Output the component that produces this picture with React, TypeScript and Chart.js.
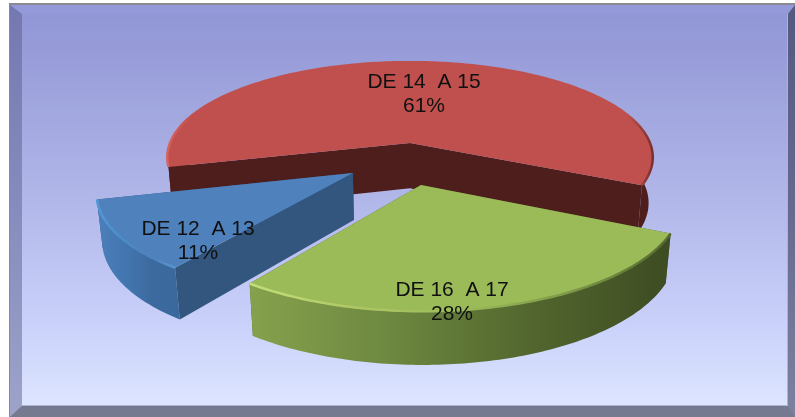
import React, { useEffect, useRef } from "react";
import { Chart, registerables } from "chart.js";

Chart.register(...registerables);

const categories = ["DE 12  A 13", "DE 14  A 15", "DE 16  A 17"];
const shares = [11, 61, 28];
const sliceColors = ["#4f81bd", "#c0504d", "#9bbb59"];

// Styling and layout of the perspective pie
const WALL = ["#33567f", "#4e1e1c", "#4f6229"];
const BAND_STOPS = [
  ["#4c80bc", "#4376b0", "#3c6a9f", "#3b689c"],
  ["#4e1e1c", "#4e1e1c", "#4e1e1c", "#4e1e1c"],
  ["#86a14c", "#6d8840", "#52662e", "#3e4c22"],
];
const RIM_BASE = "#c0504d";
const RIM_STOPS = [
  ["#5398d6", "#4c8ac8", "#4f81bd", "#5a9ad4"],
  ["#d8625e", ...Array(18).fill(RIM_BASE), "#7a2f2d"],
  ["#c5df78", "#aec765", "#9bbb59", "#7f9a48", "#55692f"],
];
const EXPLODE = [
  [-0.227, 0.308],
  [0, 0],
  [0.043, 0.423],
];
const LABEL_AT = [
  [198, 241],
  [424, 94],
  [452, 302],
];
const CAM = { cx: 410, cy: 143, R: 240, A: 93, k: 0.15, depth: 46, m: 0.017 };

function project(X: number, Z: number, h: number) {
  const w = 1 - CAM.k * Z + CAM.m * h;
  return [CAM.cx + (CAM.R * X) / w, CAM.cy + (CAM.A * Z + CAM.depth * h) / w];
}

function poly(ctx: CanvasRenderingContext2D, pts: number[][]) {
  ctx.beginPath();
  pts.forEach((p, i) => (i ? ctx.lineTo(p[0], p[1]) : ctx.moveTo(p[0], p[1])));
  ctx.closePath();
}

function hGrad(ctx: CanvasRenderingContext2D, x0: number, x1: number, stops: string[]) {
  const g = ctx.createLinearGradient(x0, 0, x1, 0);
  stops.forEach((c, i) => g.addColorStop(i / (stops.length - 1), c));
  return g;
}

function drawFrame(ctx: CanvasRenderingContext2D) {
  const W = 795, H = 417;
  ctx.fillStyle = "#ffffff";
  ctx.fillRect(0, 0, W, H);
  ctx.fillStyle = "#8a8a8f";
  ctx.fillRect(9, 3, W - 9, H - 3);
  const L = 10, T = 5, iL = 22, iT = 14, iR = 788, iB = 406;
  const bg = ctx.createLinearGradient(0, T, 0, iB);
  bg.addColorStop(0, "#8f94d4");
  bg.addColorStop(0.5, "#b2b8e9");
  bg.addColorStop(0.8, "#cad2fb");
  bg.addColorStop(1, "#dde5ff");
  ctx.fillStyle = bg;
  ctx.fillRect(L, T, iR - L, iB - T);
  // bevels
  ctx.fillStyle = "#9499da";
  poly(ctx, [[L, T], [W, T], [iR, iT], [iL, iT]]);
  ctx.fill();
  const lg = ctx.createLinearGradient(0, T, 0, H);
  lg.addColorStop(0, "#7478b0");
  lg.addColorStop(0.5, "#868cbd");
  lg.addColorStop(1, "#9da3c8");
  ctx.fillStyle = lg;
  poly(ctx, [[L, T], [iL, iT], [iL, iB], [L, H]]);
  ctx.fill();
  const rg = ctx.createLinearGradient(0, T, 0, H);
  rg.addColorStop(0, "#55587f");
  rg.addColorStop(0.5, "#666a90");
  rg.addColorStop(1, "#7d819f");
  ctx.fillStyle = rg;
  poly(ctx, [[W, T], [W, H], [iR, iB], [iR, iT]]);
  ctx.fill();
  ctx.fillStyle = "#757a90";
  poly(ctx, [[L, H], [iL, iB], [iR, iB], [W, H]]);
  ctx.fill();
  ctx.fillStyle = "#aeb3d2";
  ctx.fillRect(iL, iB - 1, iR - iL, 1);
  ctx.fillRect(iR - 1, iT, 1, iB - iT);
}

const pie3d = {
  id: "pie3d",
  beforeDatasetsDraw(chart: any) {
    const ctx: CanvasRenderingContext2D = chart.ctx;
    ctx.save();
    drawFrame(ctx);
    const arcs = chart.getDatasetMeta(0).data;
    const order = arcs.map((_: any, i: number) => i).sort((a: number, b: number) => EXPLODE[a][1] - EXPLODE[b][1]);
    for (const i of order) {
      const arc = arcs[i];
      const [ox, oz] = EXPLODE[i];
      const a0 = arc.startAngle, a1 = arc.endAngle;
      const n = Math.ceil(((a1 - a0) * 180) / Math.PI);
      const rim = (h: number) => {
        const out: number[][] = [];
        for (let s = 0; s <= n; s++) {
          const a = a0 + ((a1 - a0) * s) / n;
          out.push(project(ox + Math.cos(a), oz + Math.sin(a), h));
        }
        return out;
      };
      const top = rim(0), bot = rim(1);
      const apex = project(ox, oz, 0), apexB = project(ox, oz, 1);
      const xs = top.concat(bot).map((p) => p[0]);
      const x0 = Math.min(...xs), x1 = Math.max(...xs);
      const wall = (p: number[], q: number[]) => {
        ctx.fillStyle = WALL[i];
        poly(ctx, [apex, p, q, apexB]);
        ctx.fill();
      };
      const startFront = Math.cos(a0) < 0;
      const endFront = -Math.cos(a1) < 0;
      ctx.filter = "blur(0.5px)";
      if (!startFront) wall(top[0], bot[0]);
      if (!endFront) wall(top[n], bot[n]);
      ctx.fillStyle = hGrad(ctx, x0, x1, BAND_STOPS[i]);
      poly(ctx, top.concat(bot.slice().reverse()));
      ctx.fill();
      if (startFront) wall(top[0], bot[0]);
      if (endFront) wall(top[n], bot[n]);
      ctx.fillStyle = arc.options.backgroundColor;
      poly(ctx, [apex, ...top]);
      ctx.fill();
      ctx.strokeStyle = hGrad(ctx, x0, x1, RIM_STOPS[i]);
      ctx.lineWidth = 2.5;
      ctx.filter = "blur(0.7px)";
      ctx.beginPath();
      top.forEach((p, s) => (s ? ctx.lineTo(p[0], p[1]) : ctx.moveTo(p[0], p[1])));
      ctx.stroke();
      ctx.filter = "none";
    }
    // labels
    ctx.fillStyle = "#101010";
    ctx.filter = "blur(0.3px)";
    ctx.font = '21px "Liberation Sans", Arial, sans-serif';
    ctx.textAlign = "center";
    ctx.textBaseline = "middle";
    chart.data.labels.forEach((name: string, i: number) => {
      const [lx, ly] = LABEL_AT[i];
      ctx.fillText(name, lx, ly - 12);
      ctx.fillText(chart.data.datasets[0].data[i] + "%", lx, ly + 12);
    });
    ctx.restore();
    return false;
  },
};

export default function App() {
  const ref = useRef<HTMLCanvasElement>(null);
  useEffect(() => {
    document.body.style.margin = "0";
    const chart = new Chart(ref.current!, {
      type: "pie",
      data: {
        labels: categories,
        datasets: [{ data: shares, backgroundColor: sliceColors, borderWidth: 0 }],
      },
      options: {
        animation: false,
        responsive: false,
        rotation: 216,
        plugins: { legend: { display: false }, tooltip: { enabled: false } },
      },
      plugins: [pie3d],
    } as any);
    return () => chart.destroy();
  }, []);
  return <canvas ref={ref} width={795} height={417} style={{ display: "block" }} />;
}
